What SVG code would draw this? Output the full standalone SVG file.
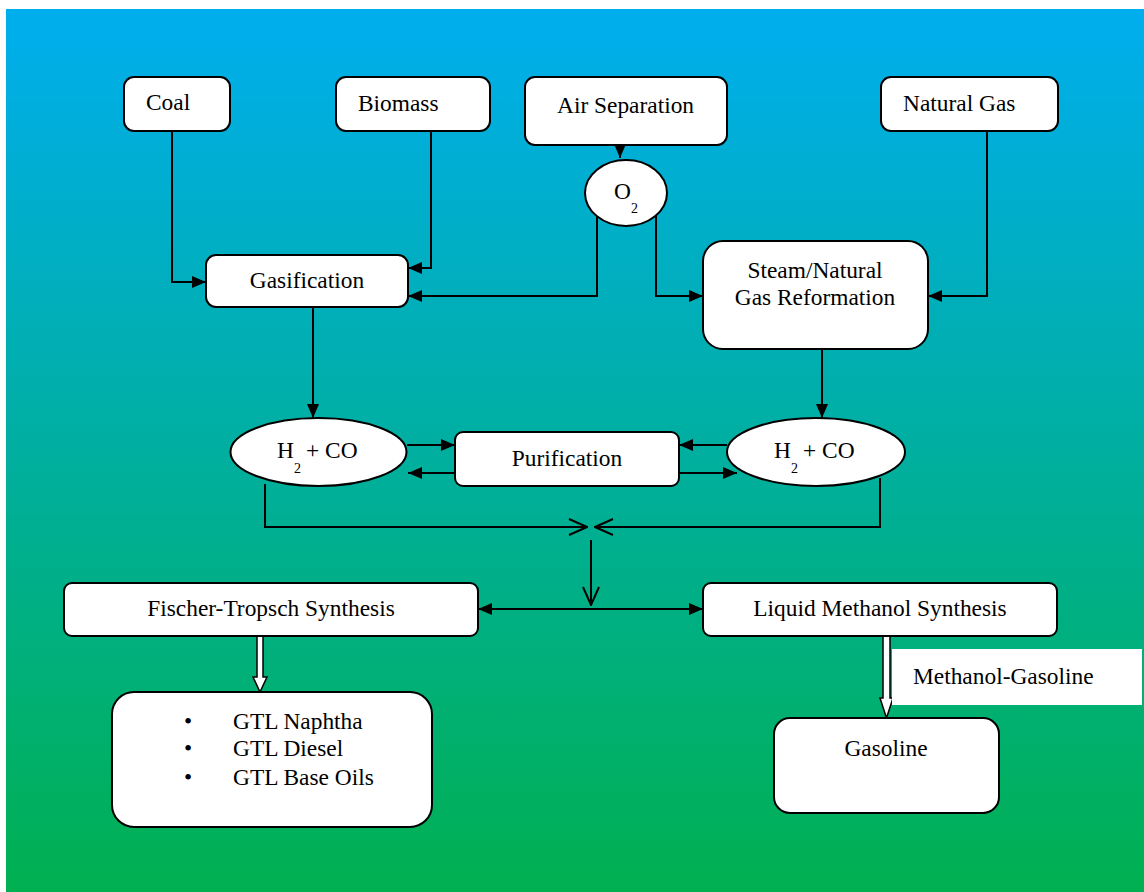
<svg xmlns="http://www.w3.org/2000/svg" width="1144" height="892" viewBox="0 0 1144 892">
<defs>
<linearGradient id="bg" x1="0" y1="0" x2="0" y2="1">
<stop offset="0" stop-color="#00AEEF"/>
<stop offset="1" stop-color="#00B050"/>
</linearGradient>
<marker id="ah" viewBox="0 0 14 12" refX="14" refY="6" markerWidth="14" markerHeight="12" markerUnits="userSpaceOnUse" orient="auto-start-reverse">
<path d="M0,0 L14,6 L0,12 Z" fill="#000"/>
</marker>
<marker id="oh" viewBox="0 0 20 18" refX="19" refY="9" markerWidth="20" markerHeight="18" markerUnits="userSpaceOnUse" orient="auto">
<path d="M1,1 L19,9 L1,17" fill="none" stroke="#000" stroke-width="2"/>
</marker>
</defs>
<style>
.box{fill:#fff;stroke:#000;stroke-width:2}
.t{font-family:"Liberation Serif","Times New Roman",serif;font-size:23.4px;fill:#000}
.c{text-anchor:middle}
.sub{font-family:"Liberation Serif","Times New Roman",serif;font-size:14px;fill:#000}
.ln{fill:none;stroke:#000;stroke-width:2}
.hol{fill:#fff;stroke:#000;stroke-width:1.5}
</style>
<rect x="0" y="0" width="1144" height="892" fill="#fff"/>
<rect x="6" y="9" width="1138" height="883" fill="url(#bg)"/>

<g id="connectors">
<path class="ln" d="M172,131 V282 H206" marker-end="url(#ah)"/>
<path class="ln" d="M431,131 V268 H408" marker-end="url(#ah)"/>
<path class="ln" d="M620,145 V158" marker-end="url(#ah)"/>
<path class="ln" d="M597,213 V296 H408" marker-end="url(#ah)"/>
<path class="ln" d="M656,213 V296 H703" marker-end="url(#ah)"/>
<path class="ln" d="M987,131 V296 H928" marker-end="url(#ah)"/>
<path class="ln" d="M313,307 V418" marker-end="url(#ah)"/>
<path class="ln" d="M822,349 V418" marker-end="url(#ah)"/>
<path class="ln" d="M407,445 H455" marker-end="url(#ah)"/>
<path class="ln" d="M455,473 H408" marker-end="url(#ah)"/>
<path class="ln" d="M727,445 H679" marker-end="url(#ah)"/>
<path class="ln" d="M679,473 H737" marker-end="url(#ah)"/>
<path class="ln" d="M265,484 V527 H587" marker-end="url(#oh)"/>
<path class="ln" d="M880,478 V527 H595" marker-end="url(#oh)"/>
<path class="ln" d="M591,540 V605" marker-end="url(#oh)"/>
<path class="ln" d="M478,609 H703" marker-start="url(#ah)" marker-end="url(#ah)"/>
<path class="hol" d="M257,636 V677 H253 L260,692 L267,677 H263 V636 Z"/>
<path class="hol" d="M883,636 V698 H880 L886.5,718 L893,698 H890 V636 Z"/>
</g>

<g id="coal"><rect class="box" x="124" y="77" width="106" height="54" rx="10"/><text class="t" x="146" y="110">Coal</text></g>
<g id="biomass"><rect class="box" x="336" y="77" width="154" height="54" rx="10"/><text class="t" x="358" y="111">Biomass</text></g>
<g id="air"><rect class="box" x="525" y="77" width="202" height="68" rx="10"/><text class="t" x="557" y="113">Air Separation</text></g>
<g id="natgas"><rect class="box" x="881" y="77" width="177" height="54" rx="10"/><text class="t" x="903" y="111">Natural Gas</text></g>
<g id="o2"><ellipse class="box" cx="626" cy="193" rx="41" ry="33"/><text class="t" x="614" y="199">O</text><text class="sub" x="631" y="213">2</text></g>
<g id="gasification"><rect class="box" x="206" y="255" width="202" height="52" rx="10"/><text class="t c" x="307" y="288">Gasification</text></g>
<g id="steam"><rect class="box" x="703" y="241" width="225" height="108" rx="20"/><text class="t c" x="815" y="278">Steam/Natural</text><text class="t c" x="815" y="305">Gas Reformation</text></g>
<g id="h2co-left"><ellipse class="box" cx="318.5" cy="452" rx="88" ry="34"/><text class="t" x="277" y="458">H</text><text class="sub" x="294" y="473">2</text><text class="t" x="306" y="458">+ CO</text></g>
<g id="purification"><rect class="box" x="455" y="432" width="224" height="54" rx="8"/><text class="t c" x="567" y="466">Purification</text></g>
<g id="h2co-right"><ellipse class="box" cx="816" cy="452" rx="89" ry="34"/><text class="t" x="774" y="458">H</text><text class="sub" x="791" y="473">2</text><text class="t" x="803" y="458">+ CO</text></g>
<g id="ft"><rect class="box" x="64" y="583" width="414" height="53" rx="8"/><text class="t c" x="271" y="616">Fischer-Tropsch Synthesis</text></g>
<g id="lms"><rect class="box" x="703" y="583" width="354" height="53" rx="8"/><text class="t c" x="880" y="616">Liquid Methanol Synthesis</text></g>
<g id="gtl"><rect class="box" x="112" y="692" width="320" height="135" rx="22"/>
<text class="t" x="184" y="729">•</text><text class="t" x="233" y="729">GTL Naphtha</text>
<text class="t" x="184" y="756">•</text><text class="t" x="233" y="756">GTL Diesel</text>
<text class="t" x="184" y="785">•</text><text class="t" x="233" y="785">GTL Base Oils</text></g>
<g id="mg-label"><rect x="892" y="649" width="250" height="56" fill="#fff"/><text class="t" x="913" y="684">Methanol-Gasoline</text></g>
<g id="gasoline"><rect class="box" x="774" y="718" width="225" height="95" rx="16"/><text class="t c" x="886" y="756">Gasoline</text></g>
</svg>
